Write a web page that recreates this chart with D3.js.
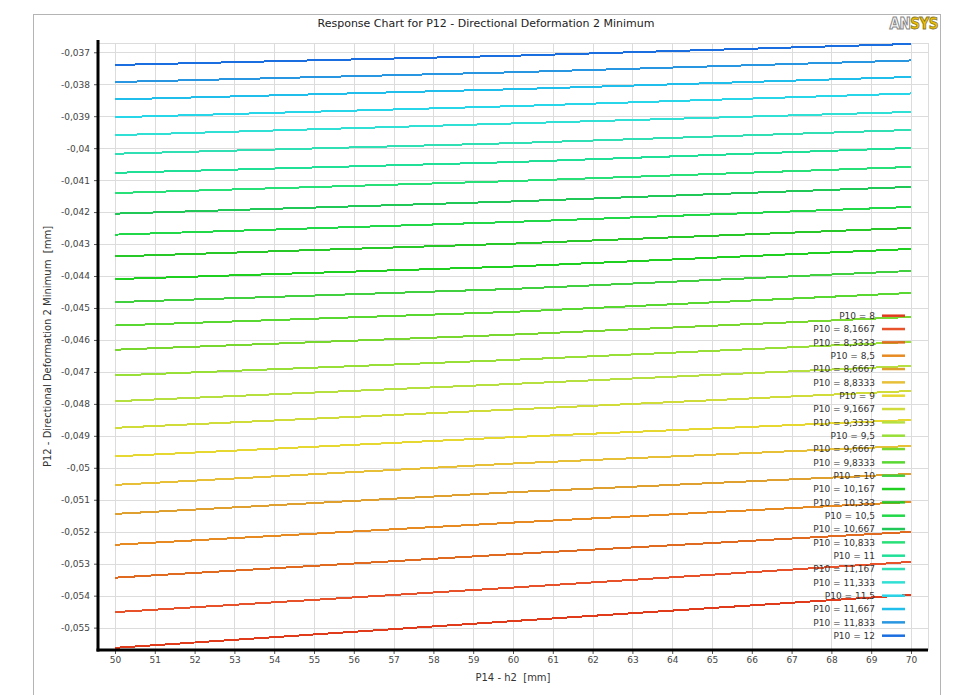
<!DOCTYPE html>
<html>
<head>
<meta charset="utf-8">
<script src="https://d3js.org/d3.v7.min.js"></script>
<style>
  body { margin: 0; background: #fff; }
  text { font-family: "DejaVu Sans", sans-serif; white-space: pre; }
</style>
</head>
<body>
<svg id="chart" width="966" height="695"></svg>
<script>

// P10 parameter values (legend order, bottom line first)
var p10Labels = ["8", "8,1667", "8,3333", "8,5", "8,6667", "8,8333", "9", "9,1667", "9,3333", "9,5",
  "9,6667", "9,8333", "10", "10,167", "10,333", "10,5", "10,667", "10,833", "11", "11,167",
  "11,333", "11,5", "11,667", "11,833", "12"]

// P14 - h2 sample points [mm]
var h2Values = [50, 60, 70]

// P12 minimum deformation [mm] read at h2 = 50, 60, 70
var defAt50 = [-0.055633, -0.054516, -0.053437, -0.052408, -0.051442, -0.050535, -0.049643, -0.048749,
  -0.047917, -0.047113, -0.046306, -0.045549, -0.044817, -0.044097, -0.043387, -0.042705, -0.042049,
  -0.041404, -0.040772, -0.040175, -0.039593, -0.039033, -0.038476, -0.037932, -0.037397]
var defAt60 = [-0.054795, -0.053747, -0.052699, -0.051714, -0.050763, -0.049865, -0.049040, -0.048176,
  -0.047375, -0.046622, -0.045833, -0.045120, -0.044404, -0.043703, -0.042987, -0.042308, -0.041667,
  -0.041029, -0.040435, -0.039843, -0.039227, -0.038686, -0.038157, -0.037626, -0.037109]
var defAt70 = [-0.053976, -0.052943, -0.052005, -0.051067, -0.050191, -0.049315, -0.048502, -0.047595,
  -0.046813, -0.046062, -0.045280, -0.044529, -0.043841, -0.043153, -0.042496, -0.041839, -0.041213,
  -0.040588, -0.039993, -0.039430, -0.038867, -0.038289, -0.037773, -0.037256, -0.036740]

var xTicks = d3.range(50, 71, 1)
var yTicks = d3.range(-55, -36, 1).map(function(d) { return d / 1000 })

var colors = ["#e03c1c", "#e8522a", "#e06a20", "#e88a22", "#e0a030", "#e8c038", "#e6d830", "#d0dc3a",
  "#b6e040", "#98e038", "#78d830", "#58d830", "#40d040", "#20d020", "#28c828", "#20d848",
  "#20c858", "#28e078", "#20e098", "#30e0b4", "#30e0d4", "#28d6ea", "#20beea", "#2896e0", "#1a6ee0"]

var series = p10Labels.map(function(lab, i) {
  return {
    label: "P10 = " + lab,
    color: colors[i],
    values: [defAt50[i], defAt60[i], defAt70[i]].map(function(v, j) { return {x: h2Values[j], y: v} })
  }
})

var svg = d3.select("#chart")

// outer frame
svg.append("rect")
  .attr("x", 33.5).attr("y", 14.5)
  .attr("width", 907).attr("height", 700)
  .attr("fill", "none").attr("stroke", "#b4b4b4")

var plotL = 98, plotR = 928, plotT = 43, plotB = 650

var x = d3.scaleLinear().domain([49.573, 70.427]).range([plotL, plotR])
var y = d3.scaleLinear().domain([-0.0557, -0.03671]).range([plotB, plotT])

var locale = d3.formatLocale({decimal: ",", thousands: ".", grouping: [3], currency: ["", ""], minus: "-"})
var fmt = locale.format(".3~f")

// grid
var grid = svg.append("g").attr("stroke", "#dcdcdc").attr("stroke-width", 1)
grid.selectAll(".vg").data(xTicks).enter().append("line")
  .attr("x1", function(d) { return Math.round(x(d)) + 0.5 })
  .attr("x2", function(d) { return Math.round(x(d)) + 0.5 })
  .attr("y1", plotT).attr("y2", plotB)
grid.selectAll(".hg").data(yTicks).enter().append("line")
  .attr("y1", function(d) { return Math.round(y(d)) + 0.5 })
  .attr("y2", function(d) { return Math.round(y(d)) + 0.5 })
  .attr("x1", plotL).attr("x2", plotR)
grid.append("line").attr("x1", plotL).attr("x2", plotR + 0.5).attr("y1", plotT + 0.5).attr("y2", plotT + 0.5)
grid.append("line").attr("x1", plotR + 0.5).attr("x2", plotR + 0.5).attr("y1", plotT).attr("y2", plotB)

// series lines
var line = d3.line().x(function(d) { return x(d.x) }).y(function(d) { return y(d.y) })
svg.append("g").selectAll("path").data(series).enter().append("path")
  .attr("d", function(d) { return line(d.values) })
  .attr("fill", "none")
  .attr("stroke", function(d) { return d.color })
  .attr("stroke-width", 2)
  .attr("shape-rendering", "crispEdges")

// axes
var yAxis = svg.append("g").attr("transform", "translate(" + plotL + ",0)")
  .call(d3.axisLeft(y).tickValues(yTicks).tickSize(4).tickFormat(fmt))
var xAxis = svg.append("g").attr("transform", "translate(0," + plotB + ")")
  .call(d3.axisBottom(x).tickValues(xTicks).tickSize(4).tickFormat(d3.format("d")))
;[xAxis, yAxis].forEach(function(a) {
  a.select(".domain").remove()
  a.selectAll(".tick line").attr("stroke", "#555")
  a.selectAll(".tick text").attr("fill", "#444").style("font-size", "9px").style("font-family", "DejaVu Sans")
})
yAxis.selectAll(".tick text").attr("x", -8)
xAxis.selectAll(".tick text").attr("y", 7)

svg.append("line").attr("x1", plotL).attr("x2", plotL).attr("y1", plotT - 3).attr("y2", plotB + 1.5)
  .attr("stroke", "#000").attr("stroke-width", 3)
svg.append("line").attr("x1", plotL - 1.5).attr("x2", plotR).attr("y1", plotB).attr("y2", plotB)
  .attr("stroke", "#000").attr("stroke-width", 3)

// titles
svg.append("text").attr("x", 486).attr("y", 27).attr("text-anchor", "middle")
  .style("font-size", "11px").attr("fill", "#222")
  .text("Response Chart for P12 - Directional Deformation 2 Minimum")
svg.append("text").attr("x", 513).attr("y", 681).attr("text-anchor", "middle")
  .style("font-size", "10px").attr("fill", "#333")
  .text("P14 - h2  [mm]")
svg.append("text").attr("transform", "translate(51," + (plotT + plotB) / 2 + ") rotate(-90)")
  .attr("text-anchor", "middle").style("font-size", "10px").attr("fill", "#333")
  .text("P12 - Directional Deformation 2 Minimum  [mm]")

// ANSYS logo
var logo = svg.append("text").attr("x", 938).attr("y", 29).attr("text-anchor", "end")
  .style("font-size", "15px").style("font-weight", "bold").style("font-family", "DejaVu Sans Condensed")
  .attr("letter-spacing", "-0.5")
logo.append("tspan").text("AN").attr("fill", "#fff").attr("stroke", "#888").attr("stroke-width", 1)
logo.append("tspan").text("SYS").attr("fill", "#f0c000").attr("stroke", "#8a7a30").attr("stroke-width", 0.8)

// legend
var legend = svg.append("g")
var rows = legend.selectAll("g").data(series).enter().append("g")
  .attr("transform", function(d, i) { return "translate(0," + (315.7 + i * 13.333) + ")" })
rows.append("text").attr("x", 875).attr("dy", "0.35em").attr("text-anchor", "end")
  .style("font-size", "9px").attr("fill", "#333")
  .text(function(d) { return d.label })
rows.append("line").attr("x1", 882).attr("x2", 905).attr("y1", 0).attr("y2", 0)
  .attr("stroke", function(d) { return d.color }).attr("stroke-width", 2.5)

</script>
</body>
</html>
